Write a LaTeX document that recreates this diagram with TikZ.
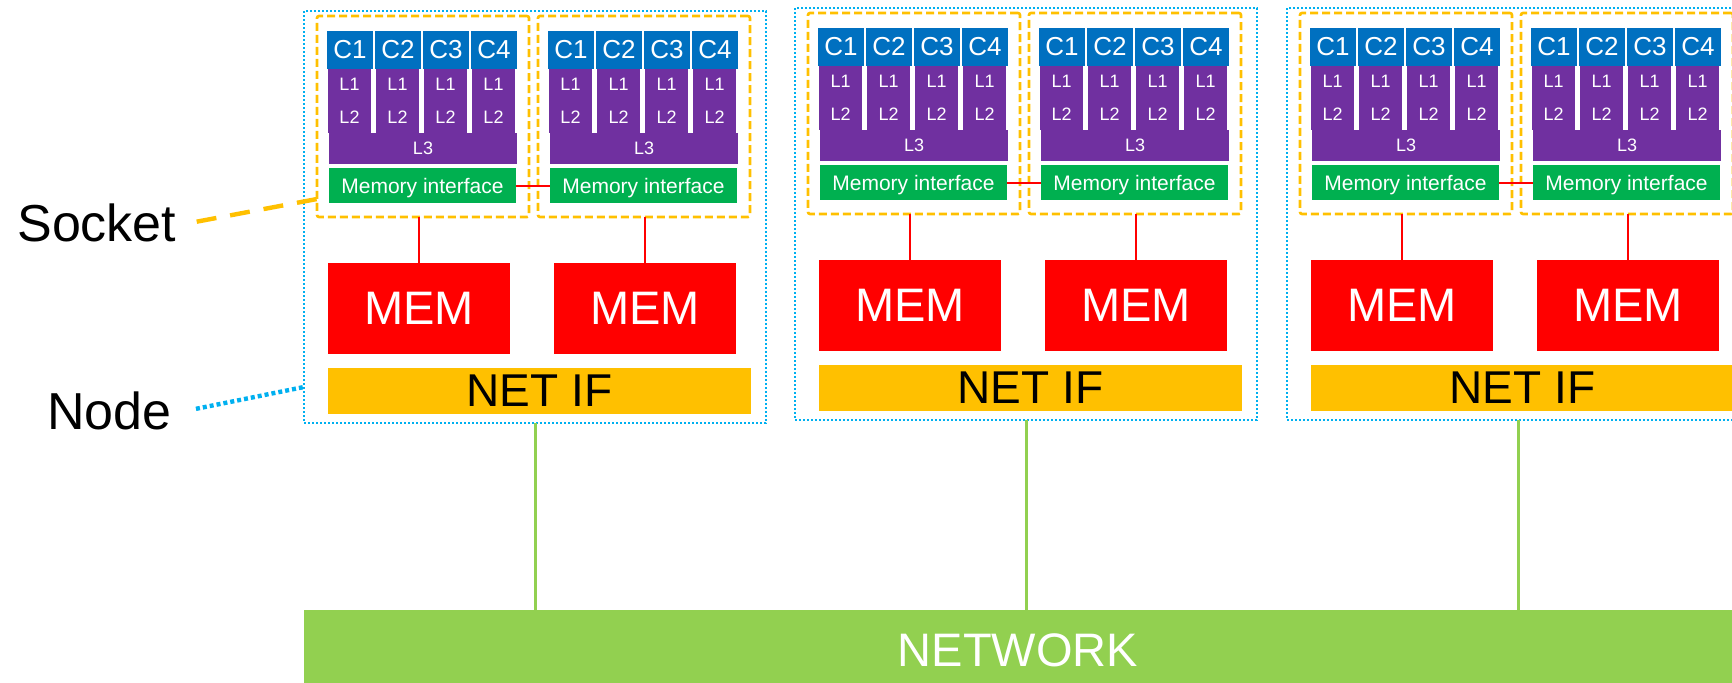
\documentclass[tikz,border=0pt]{standalone}
\usepackage{fontspec}
\setmainfont{Liberation Sans}
\usetikzlibrary{positioning,calc}
\definecolor{coreblue}{HTML}{0070C0}
\definecolor{cachepurple}{HTML}{7030A0}
\definecolor{migreen}{HTML}{00B050}
\definecolor{memred}{HTML}{FF0000}
\definecolor{netifgold}{HTML}{FFC000}
\definecolor{netgreen}{HTML}{92D050}
\definecolor{nodeblue}{HTML}{00B0F0}

\begin{document}
\begin{tikzpicture}[x=0.5pt, y=-0.5pt,
  plain/.style={inner sep=0pt, outer sep=0pt},
  core/.style={plain, fill=coreblue, text=white, minimum width=23pt,
    minimum height=19pt, font=\fontsize{13}{13}\selectfont},
  cache/.style={plain, fill=cachepurple, text=white, minimum width=21.5pt,
    minimum height=32pt, align=center, font=\fontsize{9}{16.5}\selectfont},
  lthree/.style={plain, fill=cachepurple, text=white, minimum width=94pt,
    minimum height=15.5pt, font=\fontsize{9}{10}\selectfont},
  memif/.style={plain, fill=migreen, text=white, minimum width=93.5pt,
    minimum height=17.5pt, text depth=0pt, font=\fontsize{10.5}{12}\selectfont},
  mem/.style={plain, fill=memred, text=white, minimum width=91pt,
    minimum height=45.5pt, font=\fontsize{23.5}{26}\selectfont},
  netif/.style={plain, fill=netifgold, minimum width=211.5pt,
    minimum height=23pt, font=\fontsize{23}{26}\selectfont},
  netbar/.style={plain, fill=netgreen, text=white, minimum width=714pt,
    minimum height=40pt, font=\fontsize{23.5}{26}\selectfont},
  socket/.style={plain, draw=netifgold, line width=1.3pt, dash pattern=on 4pt off 2pt,
    rounded corners=1pt, minimum width=106pt, minimum height=100.5pt},
  nodebox/.style={plain, draw=nodeblue, line width=1.2pt, dash pattern=on 1pt off 1pt,
    minimum width=231pt, minimum height=206pt},
  sidelabel/.style={inner sep=8pt, font=\fontsize{26}{30}\selectfont},
  memlink/.style={draw=memred, line width=1pt},
  netlink/.style={draw=netgreen, line width=1.5pt},
  sockleader/.style={draw=netifgold, line width=2.2pt, dash pattern=on 10pt off 7pt},
  nodeleader/.style={draw=nodeblue, line width=2.2pt, dash pattern=on 2pt off 1.5pt},
]
\useasboundingbox (0,0) rectangle (1732,682);
\clip (0,0) rectangle (1732,682);

\node[netbar] (network) at (1018,650) {NETWORK};

% three nodes, two sockets each
\foreach \n/\ox/\oy in {1/304/11, 2/795/8, 3/1287/8} {
  \node[nodebox] (node-\n) at ({\ox+231},{\oy+206}) {};
  \foreach \s/\sx/\mx in {a/13/115, b/234/341} {
    \node[socket] (sock-\n-\s) at ({\ox+\sx+106},{\oy+105.5}) {};
    \foreach \c in {1,...,4} {
      \node[core] (core-\n-\s\c) at ({\ox+\sx+33+48*(\c-1)},{\oy+39}) {C\c};
      \node[cache] (cache-\n-\s\c) at ({\ox+\sx+32.5+48*(\c-1)},{\oy+90}) {L1\\L2};
    }
    \node[lthree] (l3-\n-\s) at ({\ox+\sx+106},{\oy+137.5}) {L3};
    \node[memif] (mi-\n-\s) at ({\ox+\sx+105.5},{\oy+174.5}) {Memory interface};
    \node[mem] (mem-\n-\s) at ({\ox+\mx},{\oy+297.5}) {MEM};
    \draw[memlink] (mem-\n-\s.north) -- (mem-\n-\s.north |- sock-\n-\s.south);
  }
  \draw[memlink] (mi-\n-a.east) -- (mi-\n-b.west);
  \node[netif] (netif-\n) at ({\ox+235.5},{\oy+380}) {NET IF};
  \draw[netlink] (node-\n.south) -- (node-\n.south |- network.north);
}

\node[sidelabel, anchor=base west] (socketlbl) at (1,241) {Socket};
\node[sidelabel, anchor=base west] (nodelbl) at (31,429) {Node};
\draw[sockleader, shorten <=2pt] (socketlbl.east) -- ($(sock-1-a.south west)+(0,-18)$);
\draw[nodeleader, shorten <=4pt] (nodelbl.east) -- ($(node-1.south west)+(0,-36)$);
\end{tikzpicture}
\end{document}
